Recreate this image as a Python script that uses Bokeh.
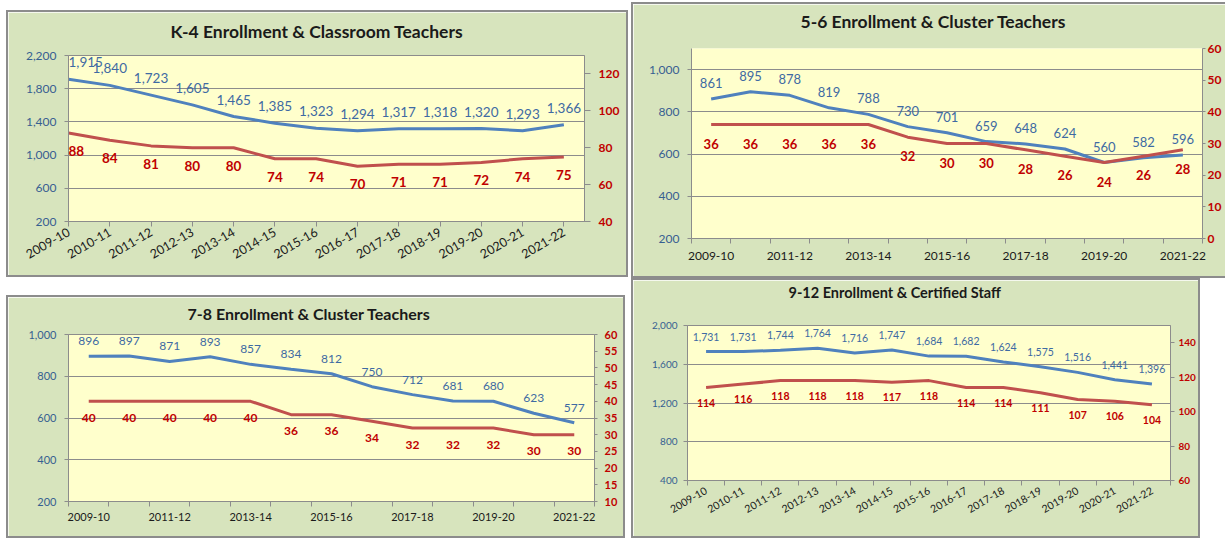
import math
from bokeh.plotting import figure
from bokeh.models import (Range1d, LinearAxis, FixedTicker, NumeralTickFormatter,
                          ColumnDataSource, Label, Title)
from bokeh.layouts import row, column
from bokeh.embed import file_html
from bokeh.resources import INLINE

# ---------------- data ----------------
years = ["2009-10", "2010-11", "2011-12", "2012-13", "2013-14", "2014-15", "2015-16",
         "2016-17", "2017-18", "2018-19", "2019-20", "2020-21", "2021-22"]

k4_title = "K-4 Enrollment & Classroom Teachers"
k4_enrollment = [1915, 1840, 1723, 1605, 1465, 1385, 1323, 1294, 1317, 1318, 1320, 1293, 1366]
k4_teachers = [88, 84, 81, 80, 80, 74, 74, 70, 71, 71, 72, 74, 75]
k4_left_ticks = [200, 600, 1000, 1400, 1800, 2200]
k4_right_ticks = [40, 60, 80, 100, 120]

g56_title = "5-6 Enrollment & Cluster Teachers"
g56_enrollment = [861, 895, 878, 819, 788, 730, 701, 659, 648, 624, 560, 582, 596]
g56_teachers = [36, 36, 36, 36, 36, 32, 30, 30, 28, 26, 24, 26, 28]
g56_left_ticks = [200, 400, 600, 800, 1000]
g56_right_ticks = [0, 10, 20, 30, 40, 50, 60]

g78_title = "7-8 Enrollment & Cluster Teachers"
g78_enrollment = [896, 897, 871, 893, 857, 834, 812, 750, 712, 681, 680, 623, 577]
g78_teachers = [40, 40, 40, 40, 40, 36, 36, 34, 32, 32, 32, 30, 30]
g78_left_ticks = [200, 400, 600, 800, 1000]
g78_right_ticks = [10, 15, 20, 25, 30, 35, 40, 45, 50, 55, 60]

g912_title = "9-12 Enrollment  & Certified Staff"
g912_enrollment = [1731, 1731, 1744, 1764, 1716, 1747, 1684, 1682, 1624, 1575, 1516, 1441, 1396]
g912_staff = [114, 116, 118, 118, 118, 117, 118, 114, 114, 111, 107, 106, 104]
g912_left_ticks = [400, 800, 1200, 1600, 2000]
g912_right_ticks = [60, 80, 100, 120, 140]

# ---------------- styles ----------------
GREEN = "#d7e4bd"
YELLOW = "#ffffcc"
GRID = "#8c8c8c"
BORDER = "#8c8c8c"
BLUE = "#4f81bd"
RED = "#c0504d"
BLUE_TXT = "#3e6aa3"
AXIS_BLUE = "#365f91"
RED_TXT = "#c00000"
DARK = "#1a1a1a"
FONT = "Lato"


def make_panel(title, enroll, staff, left_ticks, right_ticks, c):
    n = len(years)
    idx = list(range(n))
    p = figure(width=c["w"], height=c["h"], output_backend="svg", toolbar_location=None,
               x_range=Range1d(*c["xr"]), y_range=Range1d(*c["yl"]),
               min_border_left=c["mb"][0], min_border_right=c["mb"][1],
               min_border_top=c["mb"][2], min_border_bottom=c["mb"][3],
               styles=c["styles"])
    p.extra_y_ranges = {"right": Range1d(*c["yr"])}
    p.background_fill_color = YELLOW
    p.border_fill_color = GREEN
    p.outline_line_color = GRID if c["outline"] else None
    p.xgrid.grid_line_color = None
    p.ygrid.ticker = FixedTicker(ticks=left_ticks)
    p.ygrid.grid_line_color = GRID
    p.ygrid.grid_line_width = 1

    # title: a spacer line next to the frame, then the title text above it
    p.add_layout(Title(text=" ", text_font_size="1px", standoff=c["tspace"]), "above")
    p.add_layout(Title(text=title, align="left", offset=c["toff"], standoff=2,
                       text_font=FONT, text_font_size=c["tfs"], text_font_style="bold",
                       text_color=DARK), "above")

    # x axis
    xa = p.xaxis[0]
    xa.ticker = FixedTicker(ticks=c["xticks"], minor_ticks=c["xminor"])
    xa.major_label_overrides = {i: years[i] for i in c["xticks"]}
    xa.axis_line_color = GRID
    if c["xminor"]:
        xa.major_tick_line_color = None
        xa.minor_tick_line_color = GRID
        xa.minor_tick_out = 5
        xa.minor_tick_in = 0
    else:
        xa.major_tick_line_color = GRID
        xa.minor_tick_line_color = None
    xa.major_tick_out = 5
    xa.major_tick_in = 0
    xa.major_label_text_font = FONT
    xa.major_label_text_font_size = c["xfs"]
    xa.major_label_text_color = DARK
    xa.major_label_standoff = c["xstand"]
    if c["rot"] is not None:
        xa.major_label_orientation = c["rot"]

    # left axis
    ya = p.yaxis[0]
    ya.ticker = FixedTicker(ticks=left_ticks)
    ya.formatter = NumeralTickFormatter(format="0,0")
    ya.axis_line_color = GRID
    ya.major_tick_line_color = GRID
    ya.major_tick_out = 4
    ya.major_tick_in = 0
    ya.minor_tick_line_color = None
    ya.major_label_text_font = FONT
    ya.major_label_text_font_size = c["lfs"]
    ya.major_label_text_color = AXIS_BLUE
    ya.major_label_standoff = c["lstand"]

    # right axis
    ra = LinearAxis(y_range_name="right", ticker=FixedTicker(ticks=right_ticks))
    ra.axis_line_color = GRID
    ra.major_tick_line_color = GRID
    ra.major_tick_out = c["rtick"]
    ra.major_tick_in = 0
    ra.minor_tick_line_color = None
    ra.major_label_text_font = FONT
    ra.major_label_text_font_size = c["rfs"]
    ra.major_label_text_font_style = "bold"
    ra.major_label_text_color = RED_TXT
    ra.major_label_standoff = c["rstand"]
    p.add_layout(ra, "right")

    src = ColumnDataSource(dict(x=idx, e=enroll, s=staff))
    p.line("x", "e", source=src, line_color=BLUE, line_width=3)
    p.line("x", "s", source=src, line_color=RED, line_width=3, y_range_name="right")

    # data labels (a label sitting on the frame edge is left-aligned so it stays visible)
    for i in idx:
        align = "left" if i <= c["xr"][0] else "center"
        p.add_layout(Label(x=i, y=enroll[i], text=f"{enroll[i]:,}", y_offset=c["bo"],
                           text_align=align, text_baseline="middle",
                           text_font=FONT, text_font_size=c["dfs"], text_color=BLUE_TXT))
        p.add_layout(Label(x=i, y=staff[i], text=str(staff[i]), y_offset=c["ro"],
                           y_range_name="right",
                           text_align=align, text_baseline="middle",
                           text_font=FONT, text_font_size=c["dfs"], text_font_style="bold",
                           text_color=RED_TXT))
    # wrap in its own box so that rows do not align plot frames with each other
    return column(p, margin=c["margin"])


full_border = {"border": f"2px solid {BORDER}"}

pA = make_panel(k4_title, k4_enrollment, k4_teachers, k4_left_ticks, k4_right_ticks, dict(
    w=622, h=267, mb=(60, 46, 43, 58), xr=(0, 12.5), yl=(200, 2200), yr=(40, 130),
    outline=True, toff=102, tspace=10, tfs="17.5px",
    xticks=list(range(13)), xminor=[], xfs="12.5px", xstand=4, rot=math.pi / 6,
    lfs="12px", lstand=8, rfs="12px", rtick=6, rstand=8,
    dfs="13.5px", bo=17, ro=-18, styles=full_border, margin=(10, 0, 0, 6)))

pB = make_panel(g56_title, g56_enrollment, g56_teachers, g56_left_ticks, g56_right_ticks, dict(
    w=594, h=276, mb=(58, 25, 44, 42), xr=(-0.5, 12.5), yl=(200, 1100), yr=(0, 60),
    outline=False, toff=109, tspace=13, tfs="17.5px",
    xticks=[0, 2, 4, 6, 8, 10, 12], xminor=[i - 0.5 for i in range(14)],
    xfs="12px", xstand=8, rot=None,
    lfs="12px", lstand=8, rfs="12px", rtick=3, rstand=2,
    dfs="13px", bo=16, ro=-19,
    styles={"border-left": f"2px solid {BORDER}", "border-top": f"2px solid {BORDER}",
            "border-bottom": f"2px solid {BORDER}"},
    margin=(2, 0, 0, 3)))

pC = make_panel(g78_title, g78_enrollment, g78_teachers, g78_left_ticks, g78_right_ticks, dict(
    w=619, h=243, mb=(60, 33, 37, 39), xr=(-0.5, 12.5), yl=(200, 1000), yr=(10, 60),
    outline=True, toff=119, tspace=8, tfs="16px",
    xticks=[0, 2, 4, 6, 8, 10, 12], xminor=[i - 0.5 for i in range(14)],
    xfs="11px", xstand=6, rot=None,
    lfs="11px", lstand=8, rfs="11px", rtick=3, rstand=7,
    dfs="12px", bo=15, ro=-16.5, styles=full_border, margin=(17, 0, 0, 6)))

pD = make_panel(g912_title, g912_enrollment, g912_staff, g912_left_ticks, g912_right_ticks, dict(
    w=569, h=260, mb=(54, 32, 42, 60), xr=(-0.5, 12.5), yl=(400, 2000), yr=(60, 150),
    outline=True, toff=101, tspace=21, tfs="14.5px",
    xticks=list(range(13)), xminor=[i - 0.5 for i in range(14)],
    xfs="10.5px", xstand=4, rot=math.pi / 6,
    lfs="10px", lstand=6, rfs="10px", rtick=4, rstand=4,
    dfs="10.5px", bo=15, ro=-15, styles=full_border, margin=(0, 0, 0, 6)))

layout = column(row(pA, pB), row(pC, pD))

open("out.html", "w").write(file_html(layout, INLINE))
